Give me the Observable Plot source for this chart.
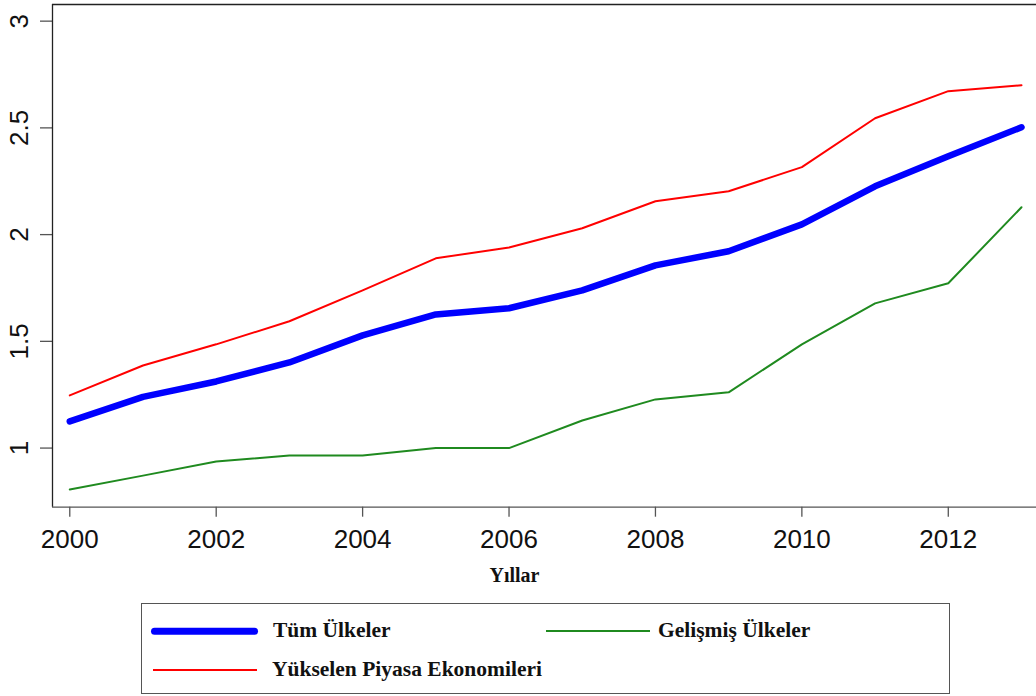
<!DOCTYPE html>
<html><head><meta charset="utf-8">
<script src="https://cdn.jsdelivr.net/npm/d3@7"></script>
<script src="https://cdn.jsdelivr.net/npm/@observablehq/plot@0.6"></script>
<style>
body{margin:0;background:#fff;}
#wrap{position:relative;width:1036px;height:696px;overflow:hidden;background:#fff;}
#chart{position:absolute;left:0;top:0;}
#legend{position:absolute;left:141px;top:603px;width:809px;height:91px;border:1.5px solid #555;box-sizing:border-box;
  font-family:"Liberation Serif","Times New Roman",serif;font-weight:bold;font-size:21.5px;color:#111;}
.item{position:absolute;height:30px;}
.swatch{position:absolute;left:0;top:50%;transform:translateY(-50%);}
.lab{position:absolute;top:50%;transform:translateY(-50%);white-space:nowrap;line-height:1;}
</style></head>
<body><div id="wrap"><div id="chart"></div><div id="legend"></div></div>
<script>
const years = [2000,2001,2002,2003,2004,2005,2006,2007,2008,2009,2010,2011,2012,2013];
const tumUlkeler = [1.125,1.24,1.312,1.401,1.528,1.626,1.655,1.739,1.856,1.922,2.048,2.226,2.367,2.503];
const gelismisUlkeler = [0.806,0.871,0.937,0.965,0.965,1.0,1.0,1.129,1.228,1.261,1.486,1.678,1.772,2.128];
const yukselenPiyasa = [1.247,1.387,1.486,1.594,1.739,1.889,1.94,2.03,2.156,2.203,2.316,2.545,2.672,2.70];
const seriesNames = ["Tüm Ülkeler","Gelişmiş Ülkeler","Yükselen Piyasa Ekonomileri"];
const seriesColors = ["#0000ff","#1f8a1f","#ff0000"];
const seriesWidths = [6.5,2,2];
const yTicks = [1,1.5,2,2.5,3];
const xTicks = [2000,2002,2004,2006,2008,2010,2012];
const xTitle = "Yıllar";

const seriesValues = [tumUlkeler, gelismisUlkeler, yukselenPiyasa];
const rows = [];
seriesNames.forEach((name,i)=>years.forEach((yr,j)=>rows.push({series:name, year:yr, value:seriesValues[i][j]})));

const xDomain = [1999.764, 2013.205];
const yDomain = [0.723, 3.078];
const H = 596;
const lineMarks = seriesNames.map((name,i)=>Plot.line(rows.filter(r=>r.series===name),
  {x:"year", y:"value", stroke:seriesColors[i], strokeWidth:seriesWidths[i], strokeLinecap:"round", strokeLinejoin:"round"}));

const chart = Plot.plot({
  width:1036, height:H, marginLeft:52, marginRight:0, marginTop:4, marginBottom:H-506.7,
  x:{domain:xDomain}, y:{domain:yDomain},
  style:{fontFamily:"'Liberation Sans', Arial, sans-serif", background:"#fff", color:"#111"},
  marks:[
    Plot.axisX(xTicks,{tickSize:10, tickFormat:()=>"", label:null, stroke:"#555", strokeWidth:1.3}),
    Plot.axisY(yTicks,{tickSize:12, tickFormat:()=>"", label:null, stroke:"#555", strokeWidth:1.3}),
    Plot.ruleY([yDomain[1]],{stroke:"#222", strokeWidth:1.3}),
    Plot.ruleY([yDomain[0]],{stroke:"#555", strokeWidth:1.3}),
    Plot.ruleX([xDomain[0]],{stroke:"#222", strokeWidth:1.3}),
    ...lineMarks.slice(1),
    lineMarks[0],
    Plot.text(xTicks,{x:d=>d, text:d=>String(d), frameAnchor:"bottom", dy:32.5, lineAnchor:"middle", fontSize:26, fill:"#111"}),
    Plot.text(yTicks,{y:d=>d, text:d=>String(d), frameAnchor:"left", dx:-33, rotate:-90, textAnchor:"middle", lineAnchor:"middle", fontSize:26, fill:"#111"}),
    Plot.text([xTitle],{frameAnchor:"bottom", dx:-30, dy:68, text:d=>d, lineAnchor:"middle", fontSize:20, fontWeight:"bold", fontFamily:"'Liberation Serif', 'Times New Roman', serif", fill:"#111"})
  ]
});
document.getElementById("chart").appendChild(chart);

// legend (HTML, below the SVG)
const legend = document.getElementById("legend");
const legendPos = [
  {left:9, top:12, lineW:107, textLeft:131},
  {left:404, top:12, lineW:104, textLeft:516},
  {left:11, top:51, lineW:104, textLeft:130}
];
seriesNames.forEach((name,i)=>{
  const p = legendPos[i];
  const it = document.createElement("div");
  it.className="item"; it.style.left=p.left+"px"; it.style.top=p.top+"px"; it.style.width="500px";
  const sw = document.createElement("div");
  sw.className="swatch"; sw.style.width=p.lineW+"px"; sw.style.height=seriesWidths[i]+"px";
  sw.style.background=seriesColors[i]; sw.style.borderRadius=(seriesWidths[i]>3?"4px":"0");
  const lb = document.createElement("div");
  lb.className="lab"; lb.style.left=(p.textLeft-p.left)+"px"; lb.textContent=name;
  it.appendChild(sw); it.appendChild(lb); legend.appendChild(it);
});
</script></body></html>
